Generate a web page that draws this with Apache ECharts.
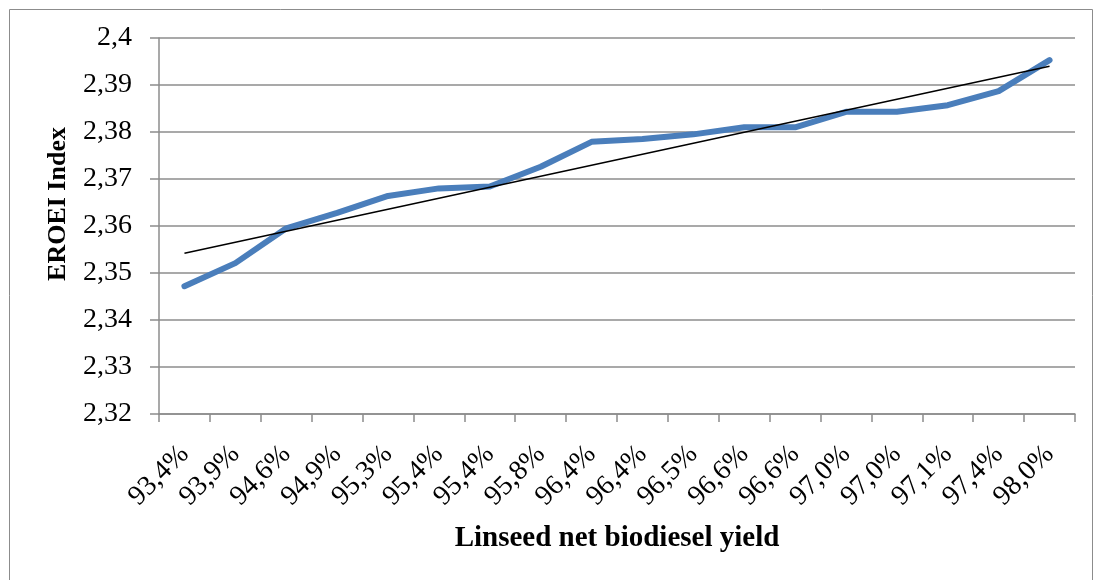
<!DOCTYPE html>
<html>
<head>
<meta charset="utf-8">
<script src="https://cdn.jsdelivr.net/npm/echarts@6/dist/echarts.min.js"></script>
<style>
html,body{margin:0;padding:0;background:#fff;}
#c{width:1097px;height:580px;}
</style>
</head>
<body>
<div id="c"></div>
<script>
// Data
var categories = ['93,4%','93,9%','94,6%','94,9%','95,3%','95,4%','95,4%','95,8%','96,4%','96,4%','96,5%','96,6%','96,6%','97,0%','97,0%','97,1%','97,4%','98,0%'];
var eroei = [2.3472, 2.3521, 2.3595, 2.3628, 2.3664, 2.3680, 2.3684, 2.3726, 2.3779, 2.3785, 2.3795, 2.3810, 2.3810, 2.3843, 2.3843, 2.3857, 2.3887, 2.3953];
var trendEnds = [2.3542, 2.3940]; // linear trendline value at first and last category
var yTicks = [2.32, 2.33, 2.34, 2.35, 2.36, 2.37, 2.38, 2.39, 2.40];

var FONT = '"Liberation Serif","Times New Roman",serif';
var chart = echarts.init(document.getElementById('c'), null, {renderer:'canvas'});
chart.setOption({
  animation: false,
  backgroundColor: '#ffffff',
  graphic: [{
    type: 'rect', left: 7, top: 7,
    shape: {width: 1083, height: 590},
    style: {fill: 'none', stroke: '#8c8c8c', lineWidth: 1},
    silent: true, z: -1
  }],
  grid: {left: 159, right: 22, top: 38, bottom: 166, containLabel: false},
  xAxis: {
    type: 'category',
    data: categories,
    boundaryGap: true,
    name: 'Linseed net biodiesel yield',
    nameLocation: 'middle',
    nameGap: 110,
    nameMoveOverlap: false,
    nameTextStyle: {fontFamily: FONT, fontWeight: 'bold', fontSize: 29, color: '#000'},
    axisLine: {lineStyle: {color: '#8c8c8c', width: 1.5}},
    axisTick: {show: true, alignWithLabel: false, length: 8, lineStyle: {color: '#8c8c8c', width: 1.5}},
    axisLabel: {rotate: 45, interval: 0, margin: 36, fontFamily: FONT, fontSize: 28, color: '#000'},
    splitLine: {show: false}
  },
  yAxis: {
    type: 'value',
    min: yTicks[0], max: yTicks[yTicks.length-1], interval: 0.01,
    name: 'EROEI Index',
    nameLocation: 'middle',
    nameGap: 88,
    nameRotate: 90,
    nameMoveOverlap: false,
    nameTextStyle: {fontFamily: FONT, fontWeight: 'bold', fontSize: 26, color: '#000', padding: [0, 0, 0, 44]},
    axisLine: {show: true, lineStyle: {color: '#8c8c8c', width: 1.5}},
    axisTick: {show: true, length: 9, lineStyle: {color: '#8c8c8c', width: 1.5}},
    axisLabel: {
      margin: 27, fontFamily: FONT, fontSize: 28, color: '#000',
      formatter: function (v) {
        var s = (Math.round(v * 100) / 100).toString();
        return s.replace('.', ',');
      }
    },
    splitLine: {show: true, lineStyle: {color: '#8c8c8c', width: 1.5}}
  },
  series: [
    {
      type: 'line', data: eroei, symbol: 'none',
      lineStyle: {color: '#4a7ebb', width: 6, cap: 'round', join: 'round'},
      z: 2
    },
    {
      type: 'line',
      data: [[0, trendEnds[0]], [categories.length - 1, trendEnds[1]]],
      symbol: 'none',
      lineStyle: {color: '#000', width: 1.5},
      z: 3
    }
  ]
});
</script>
</body>
</html>
